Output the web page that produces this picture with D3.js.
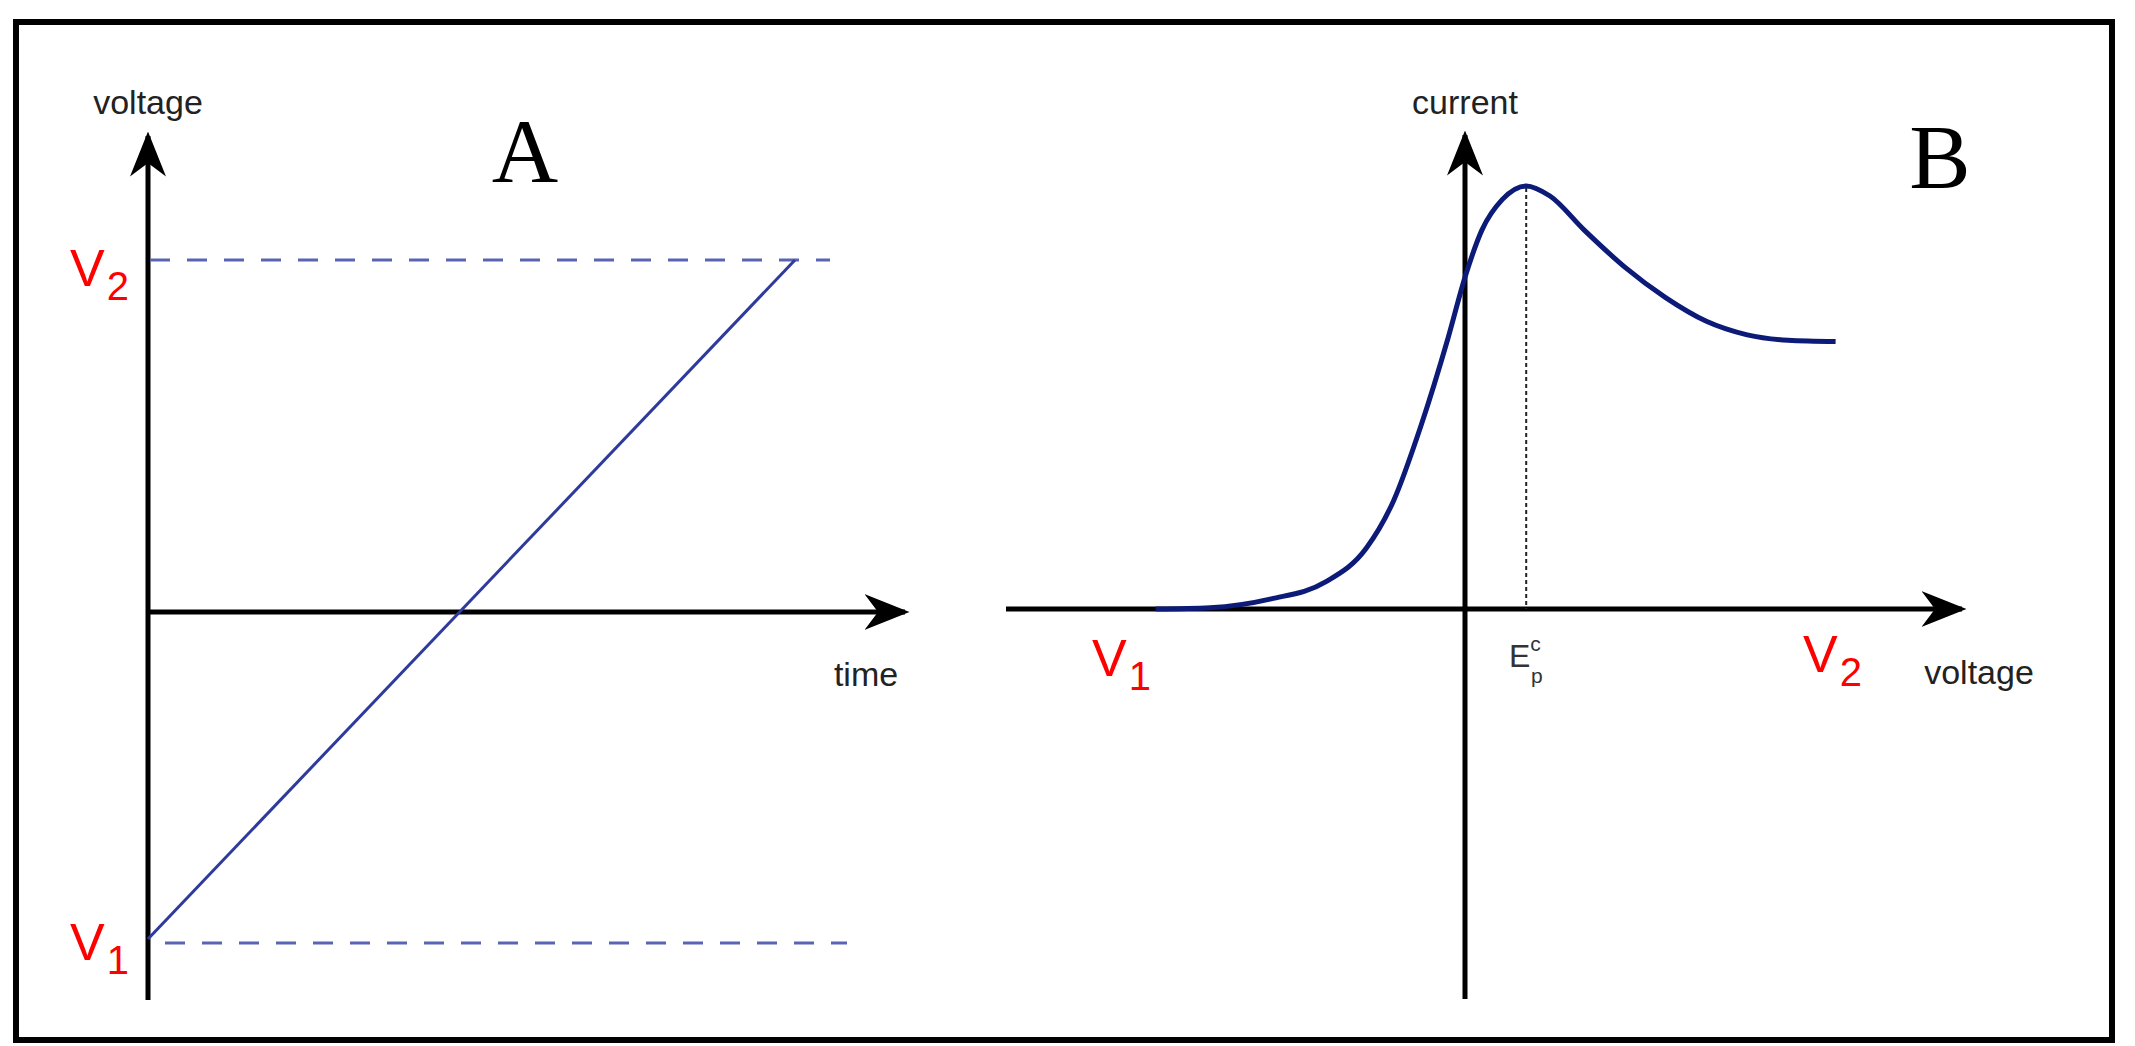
<!DOCTYPE html>
<html><head><meta charset="utf-8">
<script src="https://cdn.jsdelivr.net/npm/d3@7"></script>
<style>body{margin:0;background:#fff}svg{display:block}</style></head>
<body><script>
// Panel A data: time vs voltage (ramp from V1 to V2)
const rampTime = [0, 1];
const rampVoltage = [-1, 1];
const levelLabels = ["V1", "V2"];
// Panel B data: voltage vs current (voltammogram)
const curveVoltage = [-4.55,-3.75,-2.85,-2.05,-1.45,-1.05,-0.65,-0.25,0,0.25,0.55,0.9,1.25,1.75,2.35,2.95,3.55,4.15,4.75,5.45];
const curveCurrent = [0,0.02,0.15,0.40,0.90,1.60,2.70,4.00,4.90,5.60,6.05,6.25,6.10,5.60,5.05,4.60,4.25,4.05,3.97,3.95];
const peakVoltage = 0.9;

const W=2135,H=1046;
const svg=d3.select("body").append("svg").attr("width",W).attr("height",H);
svg.append("rect").attr("x",16).attr("y",22).attr("width",2096).attr("height",1018).attr("fill","none").attr("stroke","#000").attr("stroke-width",6);

const defs=svg.append("defs");
defs.append("marker").attr("id","arr").attr("viewBox","0 0 20 20").attr("refX",18).attr("refY",10)
 .attr("markerWidth",9).attr("markerHeight",9).attr("markerUnits","strokeWidth").attr("orient","auto")
 .append("path").attr("d","M0,2 L20,10 L0,18 L6,10 Z").attr("fill","#000");

const sans="'Liberation Sans', Arial, sans-serif";
// ---- Panel A ----
const xA=d3.scaleLinear().domain([0,1]).range([148,795]);
const yA=d3.scaleLinear().domain([-1,1]).range([939,260]);
const y0A=612;
svg.append("line").attr("x1",148).attr("x2",148).attr("y1",1000).attr("y2",136).attr("stroke","#000").attr("stroke-width",5).attr("marker-end","url(#arr)");
svg.append("line").attr("x1",148).attr("x2",905).attr("y1",y0A).attr("y2",y0A).attr("stroke","#000").attr("stroke-width",5).attr("marker-end","url(#arr)");
svg.append("line").attr("x1",150).attr("x2",830).attr("y1",yA(1)).attr("y2",yA(1)).attr("stroke","#5a64b4").attr("stroke-width",3).attr("stroke-dasharray","20,17");
svg.append("line").attr("x1",165).attr("x2",847).attr("y1",yA(-1)+4).attr("y2",yA(-1)+4).attr("stroke","#5a64b4").attr("stroke-width",3).attr("stroke-dasharray","20,17");
svg.append("path").datum(rampTime.map((t,i)=>[t,rampVoltage[i]]))
 .attr("d",d3.line().x(d=>xA(d[0])).y(d=>yA(d[1]))).attr("fill","none").attr("stroke","#2e3a9c").attr("stroke-width",3);
function vlab(x,y,sub){const t=svg.append("text").attr("x",x).attr("y",y).attr("fill","#f00").attr("font-family",sans).attr("font-size",52);
 t.append("tspan").text("V");t.append("tspan").attr("font-size",40).attr("dy",14).attr("dx",2).text(sub);}
vlab(70,286,"2");vlab(70,960,"1");
svg.append("text").attr("x",148).attr("y",114).attr("text-anchor","middle").attr("font-family",sans).attr("font-size",34).attr("fill","#222").text("voltage");
svg.append("text").attr("x",866).attr("y",686).attr("text-anchor","middle").attr("font-family",sans).attr("font-size",34).attr("fill","#222").text("time");
svg.append("text").attr("x",525).attr("y",182).attr("text-anchor","middle").attr("font-family","'Liberation Serif', serif").attr("font-size",92).text("A");

// ---- Panel B ----
const xB=d3.scaleLinear().domain([0,1]).range([1465,1533]);
const yB=d3.scaleLinear().domain([0,1]).range([609,541.3]);
svg.append("line").attr("x1",1006).attr("x2",1962).attr("y1",yB(0)).attr("y2",yB(0)).attr("stroke","#000").attr("stroke-width",5).attr("marker-end","url(#arr)");
svg.append("line").attr("x1",xB(0)).attr("x2",xB(0)).attr("y1",999).attr("y2",135).attr("stroke","#000").attr("stroke-width",5).attr("marker-end","url(#arr)");
svg.append("line").attr("x1",xB(peakVoltage)).attr("x2",xB(peakVoltage)).attr("y1",yB(6.22)).attr("y2",yB(0)).attr("stroke","#222").attr("stroke-width",2).attr("stroke-dasharray","4,3");
svg.append("path").datum(curveVoltage.map((v,i)=>[v,curveCurrent[i]]))
 .attr("d",d3.line().x(d=>xB(d[0])).y(d=>yB(d[1])).curve(d3.curveMonotoneX)).attr("fill","none").attr("stroke","#0c1a78").attr("stroke-width",5);
vlab(1092,676,"1");vlab(1803,672,"2");
svg.append("text").attr("x",1465).attr("y",114).attr("text-anchor","middle").attr("font-family",sans).attr("font-size",34).attr("fill","#222").text("current");
svg.append("text").attr("x",1979).attr("y",684).attr("text-anchor","middle").attr("font-family",sans).attr("font-size",34).attr("fill","#222").text("voltage");
const ep=svg.append("text").attr("x",1509).attr("y",667).attr("font-family",sans).attr("font-size",32).attr("fill","#333");
ep.append("tspan").text("E");ep.append("tspan").attr("font-size",21).attr("dy",-16).text("c");
ep.append("tspan").attr("font-size",21).attr("x",1531).attr("dy",32).text("p");
svg.append("text").attr("x",1940).attr("y",188).attr("text-anchor","middle").attr("font-family","'Liberation Serif', serif").attr("font-size",92).text("B");
</script></body></html>
